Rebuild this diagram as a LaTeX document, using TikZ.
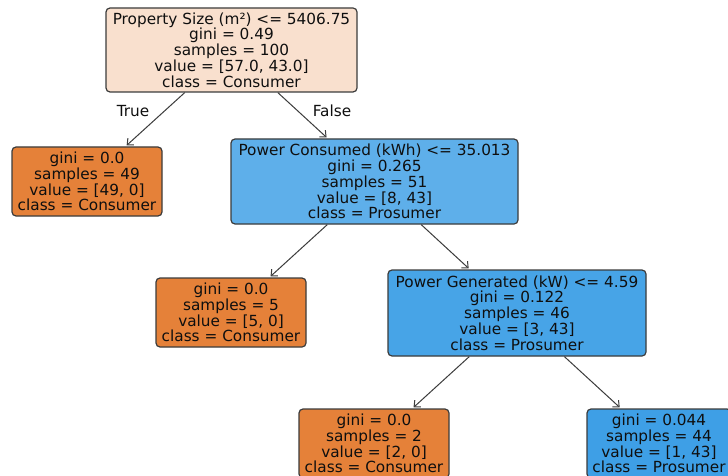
\documentclass[tikz,border=0pt]{standalone}
\usepackage{fontspec}
\setmainfont{DejaVu Sans}
\usetikzlibrary{arrows.meta}
\definecolor{rootc}{RGB}{249,224,206}
\definecolor{orangec}{RGB}{229,129,57}
\definecolor{bluea}{RGB}{94,175,234}
\definecolor{blueb}{RGB}{71,164,231}
\definecolor{bluec}{RGB}{62,159,230}
\definecolor{edgec}{RGB}{60,60,60}
\definecolor{txtc}{RGB}{15,15,15}
\tikzset{
  treebox/.style={draw=edgec, line width=1.2pt, rounded corners=4pt, align=center,
    inner sep=0pt, text=txtc, font=\fontsize{15.3}{15.8}\selectfont},
  branch/.style={draw=edgec, line width=1pt, -{Straight Barb[length=5pt,width=9pt]}, shorten >=1.5pt},
  lbl/.style={text=txtc, font=\fontsize{15.3}{15.8}\selectfont, inner sep=0pt}
}
\begin{document}
\begin{tikzpicture}[x=1pt,y=-1pt]
\clip (0,0) rectangle (728,476);
\fill[white] (0,0) rectangle (728,476);
\node[treebox, fill=rootc, minimum width=251pt, minimum height=84pt] (root) at (231.5,50)
  {Property Size (m²) <= 5406.75\\gini = 0.49\\samples = 100\\value = [57.0, 43.0]\\class = Consumer};
\node[treebox, fill=orangec, minimum width=150pt, minimum height=69pt] (l1) at (87,181.5)
  {gini = 0.0\\samples = 49\\value = [49, 0]\\class = Consumer};
\node[treebox, fill=bluea, minimum width=287pt, minimum height=85pt] (r1) at (374.5,181.5)
  {Power Consumed (kWh) <= 35.013\\gini = 0.265\\samples = 51\\value = [8, 43]\\class = Prosumer};
\node[treebox, fill=orangec, minimum width=150pt, minimum height=69pt] (l2) at (231,312.5)
  {gini = 0.0\\samples = 5\\value = [5, 0]\\class = Consumer};
\node[treebox, fill=blueb, minimum width=258pt, minimum height=86pt] (r2) at (517,313)
  {Power Generated (kW) <= 4.59\\gini = 0.122\\samples = 46\\value = [3, 43]\\class = Prosumer};
\node[treebox, fill=orangec, minimum width=150pt, minimum height=69pt] (l3) at (374,443.5)
  {gini = 0.0\\samples = 2\\value = [2, 0]\\class = Consumer};
\node[treebox, fill=bluec, minimum width=144pt, minimum height=69pt] (r3) at (659,443.5)
  {gini = 0.044\\samples = 44\\value = [1, 43]\\class = Prosumer};
\draw[branch] (root) -- (l1);
\draw[branch] (root) -- (r1);
\draw[branch] (r1) -- (l2);
\draw[branch] (r1) -- (r2);
\draw[branch] (r2) -- (l3);
\draw[branch] (r2) -- (r3);
\node[lbl] (t) at (133,111) {True};
\node[lbl] (f) at (332,111) {False};
\end{tikzpicture}
\end{document}
